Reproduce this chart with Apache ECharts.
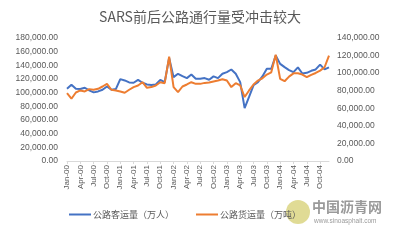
<!DOCTYPE html>
<html><head><meta charset="utf-8">
<script src="https://cdn.jsdelivr.net/npm/echarts@6/dist/echarts.min.js"></script>
<style>html,body{margin:0;padding:0;background:#fff}#c{width:400px;height:241px}</style>
</head><body><div id="c"></div>
<script>
var monthNames = ['Jan','Feb','Mar','Apr','May','Jun','Jul','Aug','Sep','Oct','Nov','Dec'];
var years = ['00','01','02','03','04'];
var categories = [];
years.forEach(function(y){ monthNames.forEach(function(m){ categories.push(m + '-' + y); }); });

var passenger = [105700,111500,105700,105300,107200,103300,100400,101800,104300,109100,104300,105300,
  119800,117900,115000,114500,118800,114500,112000,111100,112000,118800,115400,150800,
  122700,127600,124200,121300,126600,120300,120300,121300,118900,123800,121300,127600,
  130000,133900,127600,115400,77300,93800,110800,115400,123800,134900,134900,154300,
  142100,137300,133000,130000,137000,128000,129000,132000,134000,141000,134000,137000];
var freight = [77300,70900,78000,80300,79200,81800,81100,82200,84800,87800,81100,80300,
  79200,77700,81100,84100,86000,89700,83300,84100,86000,89700,88600,118800,
  84100,78400,84800,87100,89700,87800,87800,88900,89300,90500,91600,93100,
  91600,84100,88600,86000,72800,80300,87100,91600,94200,98400,101000,121000,
  93500,90800,96100,99800,99800,98400,95400,98000,100200,102900,106700,119900];
var seriesNames = ['公路客运量（万人）', '公路货运量（万吨）'];
var titleText = 'SARS前后公路通行量受冲击较大';

function fmt(v){
  var s = Math.round(v).toString().replace(/\B(?=(\d{3})+(?!\d))/g, ',');
  return s + '.00';
}
var grey = '#595959';
var chart = echarts.init(document.getElementById('c'));
chart.setOption({
  animation: false,
  textStyle: {fontFamily: 'Liberation Sans, Noto Sans CJK SC, sans-serif'},
  title: {text: titleText, left: 'center', top: 5,
    textStyle: {fontSize: 14, fontWeight: 'normal', color: grey, fontFamily: 'Noto Sans CJK SC, sans-serif'}},
  legend: {top: 205, left: 64, itemWidth: 22, itemHeight: 2, itemGap: 22, icon: 'rect',
    textStyle: {fontSize: 9, color: grey, fontFamily: 'Noto Sans CJK SC, sans-serif', padding: [0,0,0,-3]},
    data: seriesNames},
  grid: {left: 67, right: 71, top: 38, bottom: 80},
  xAxis: {type: 'category', data: categories, boundaryGap: false,
    axisLine: {lineStyle: {color: '#d9d9d9'}},
    axisTick: {show: true, interval: 2, length: 3, lineStyle: {color: '#d9d9d9'}},
    axisLabel: {interval: 2, rotate: 90, fontSize: 8, color: grey, margin: 4}},
  yAxis: [
    {type: 'value', min: 0, max: 180000, interval: 20000,
      splitLine: {show: false}, axisLine: {show: false}, axisTick: {show: false},
      axisLabel: {fontSize: 8.5, color: grey, formatter: fmt, margin: 9}},
    {type: 'value', min: 0, max: 140000, interval: 20000,
      splitLine: {show: false}, axisLine: {show: false}, axisTick: {show: false},
      axisLabel: {fontSize: 8.5, color: grey, formatter: fmt, margin: 8}}
  ],
  series: [
    {name: seriesNames[0], type: 'line', data: passenger, yAxisIndex: 0, showSymbol: false,
      lineStyle: {width: 2, color: '#4472C4'}, itemStyle: {color: '#4472C4'}},
    {name: seriesNames[1], type: 'line', data: freight, yAxisIndex: 1, showSymbol: false,
      lineStyle: {width: 2, color: '#ED7D31'}, itemStyle: {color: '#ED7D31'}}
  ],
  graphic: [
    {type: 'circle', shape: {cx: 298, cy: 212, r: 12}, style: {fill: '#d8d27a', opacity: 0.8}},
    {type: 'text', left: 312, top: 200, style: {text: '中国沥青网', fontSize: 14, fontWeight: 'bold', fill: '#9a9a9a', fontFamily: 'Noto Sans CJK SC, sans-serif'}},
    {type: 'text', left: 314, top: 218, style: {text: 'www.sinoasphalt.com', fontSize: 6.5, fill: '#9a9a9a'}}
  ]
});
</script></body></html>
